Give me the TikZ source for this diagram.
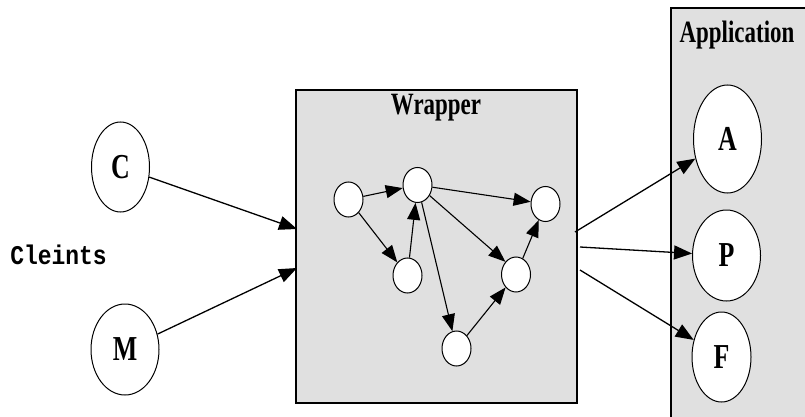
\documentclass[tikz,border=0pt]{standalone}
\usepackage{fontspec}
\newfontfamily\titlefont[FakeStretch=0.74]{Liberation Serif}
\newfontfamily\codefont[FakeStretch=0.85]{Liberation Mono}
\usepackage{tikz}
\usetikzlibrary{arrows.meta, shapes.geometric}
\definecolor{panelgray}{RGB}{224,224,224}
\tikzset{
  panel/.style    = {draw=black, fill=panelgray},
  bigstate/.style = {ellipse, draw=black, line width=1pt, fill=white, inner sep=0pt,
                     font=\titlefont\bfseries\fontsize{35}{35}\selectfont},
  state/.style    = {ellipse, draw=black, line width=1pt, fill=white, inner sep=0pt,
                     minimum width=29pt, minimum height=35pt},
  title/.style    = {font=\titlefont\bfseries\fontsize{31}{31}\selectfont, inner sep=0pt},
  flow/.style     = {-{Triangle[length=18pt, width=14pt]}, line width=1.3pt},
  link/.style     = {-{Triangle[length=17pt, width=13pt]}, line width=1.1pt},
}

\begin{document}
\begin{tikzpicture}[x=1pt, y=-1pt]
    \useasboundingbox (0,0) rectangle (805,417);
    \clip (0,0) rectangle (805,417);

    % application panel (runs off the right and bottom edge)
    \draw[panel, line width=1.3pt] (671,8) rectangle (830,440);
    \node[title] (apptitle) at (737,35) {Application};
    \node[bigstate, minimum width=68pt, minimum height=108pt] (A) at (727.5,139) {A};
    \node[bigstate, minimum width=68pt, minimum height=91pt]  (P) at (726.5,255.5) {P};
    \node[bigstate, minimum width=59pt, minimum height=90pt]  (F) at (721.5,357) {F};

    % wrapper panel
    \node[panel, line width=1.8pt, minimum width=281pt, minimum height=313pt, inner sep=0pt]
      (wrapper) at (436.5,246.5) {};
    \node[title] (wraptitle) at (436,108) {Wrapper};

    % internal graph
    \node[state] (n1) at (348.5,199.5) {};
    \node[state] (n2) at (417.5,185) {};
    \node[state] (n3) at (407.5,275.5) {};
    \node[state] (n4) at (545.5,204) {};
    \node[state] (n5) at (516,274.5) {};
    \node[state] (n6) at (456.5,348.5) {};
    \draw[link] (n1) -- (n2);
    \draw[link] (n1) -- (n3);
    \draw[link] (n3) -- (n2);
    \draw[link] (n2) -- (n4);
    \draw[link] (n2) -- (n5.north west);
    \draw[link] (n2) -- (n6);
    \draw[link] (n6) -- (n5);
    \draw[link] (n5) -- (n4);

    % clients
    \node[bigstate, minimum width=58pt, minimum height=90pt] (C) at (120.5,167) {C};
    \node[bigstate, minimum width=68pt, minimum height=91pt] (M) at (125,349.5) {M};
    \node[font=\codefont\bfseries\fontsize{27}{27}\selectfont, inner sep=0pt] (clients) at (58.5,255) {Cleints};

    % entry and exit points on the wrapper border
    \coordinate (in1)  at (297,229);
    \coordinate (in2)  at (297,268);
    \coordinate (out1) at (575,232);
    \coordinate (out2) at (580,247);
    \coordinate (out3) at (580,270);

    \draw[flow] (C) -- (in1);
    \draw[flow] (M) -- (in2);
    \draw[flow] (out1) -- (A);
    \draw[flow] (out2) -- (P);
    \draw[flow] (out3) -- (F);
\end{tikzpicture}
\end{document}
